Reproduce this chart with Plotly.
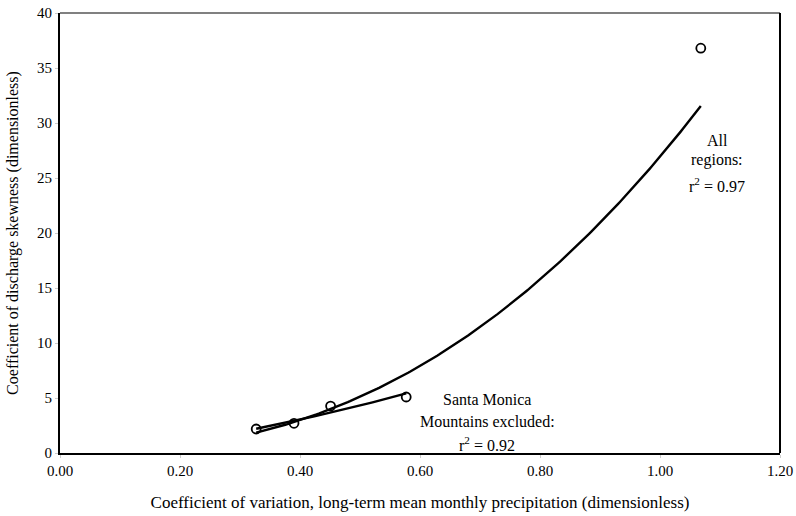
import numpy as np
import plotly.graph_objects as go

# Data
cv_precip = [0.327, 0.390, 0.451, 0.577, 1.068]
skewness = [2.18, 2.70, 4.27, 5.09, 36.8]
excluded_mask = [True, True, True, True, False]  # Santa Monica Mountains point excluded

x_ticks = [0.0, 0.2, 0.4, 0.6, 0.8, 1.0, 1.2]
x_tick_labels = ["0.00", "0.20", "0.40", "0.60", "0.80", "1.00", "1.20"]
y_ticks = [0, 5, 10, 15, 20, 25, 30, 35, 40]

x_title = "Coefficient of variation, long-term mean monthly precipitation (dimensionless)"
y_title = "Coefficient of discharge skewness (dimensionless)"

all_label_lines = ["All", "regions:", "r<sup>2</sup> = 0.97"]
all_label_x = 1.095
all_label_y = [28.45, 26.64, 24.36]
sm_label_lines = ["Santa Monica", "Mountains excluded:", "r<sup>2</sup> = 0.92"]
sm_label_x = 0.712
sm_label_y = [4.82, 2.82, 0.85]


def power_fit(xs, ys):
    lx, ly = np.log(xs), np.log(ys)
    b, ln_a = np.polyfit(lx, ly, 1)
    return np.exp(ln_a), b


x_all = np.array(cv_precip)
y_all = np.array(skewness)
a1, b1 = power_fit(x_all, y_all)
xs1 = np.linspace(x_all.min(), x_all.max(), 200)

m = np.array(excluded_mask)
a2, b2 = power_fit(x_all[m], y_all[m])
xs2 = np.linspace(x_all[m].min(), x_all[m].max(), 50)

font_family = "Liberation Serif"

fig = go.Figure()
fig.add_trace(go.Scatter(x=xs1, y=a1 * xs1 ** b1, mode="lines",
                         line=dict(color="black", width=2.4), showlegend=False,
                         hoverinfo="skip"))
fig.add_trace(go.Scatter(x=xs2, y=a2 * xs2 ** b2, mode="lines",
                         line=dict(color="black", width=2.4), showlegend=False,
                         hoverinfo="skip"))
fig.add_trace(go.Scatter(x=cv_precip, y=skewness, mode="markers",
                         marker=dict(symbol="circle-open", size=9, color="black",
                                     line=dict(width=1.8, color="black")),
                         showlegend=False))

for txt, yy in zip(all_label_lines, all_label_y):
    fig.add_annotation(x=all_label_x, y=yy, xref="x", yref="y", showarrow=False,
                       text=txt, font=dict(family=font_family, size=16, color="black"))
for txt, yy in zip(sm_label_lines, sm_label_y):
    fig.add_annotation(x=sm_label_x, y=yy, xref="x", yref="y", showarrow=False,
                       text=txt, font=dict(family=font_family, size=16, color="black"))

# top border (gray) and right border (black)
fig.add_shape(type="line", xref="paper", yref="paper", x0=0, x1=1, y0=1, y1=1,
              line=dict(color="#808080", width=2))
fig.add_shape(type="line", xref="paper", yref="paper", x0=1, x1=1, y0=0, y1=1,
              line=dict(color="black", width=2))

fig.update_layout(
    width=796, height=516,
    margin=dict(l=60, r=16, t=13, b=63),
    paper_bgcolor="white", plot_bgcolor="white",
    font=dict(family=font_family, size=15, color="black"),
    xaxis=dict(range=[0, 1.2], tickvals=x_ticks, ticktext=x_tick_labels,
               showgrid=False, zeroline=False, showline=True, linecolor="black",
               linewidth=2, mirror=False, ticks="outside", ticklen=3,
               tickcolor="#cccccc", tickfont=dict(size=15), automargin=False,
               ticklabeloverflow="allow",
               title=dict(text=x_title, font=dict(size=17), standoff=18)),
    yaxis=dict(range=[0, 40], tickvals=y_ticks,
               showgrid=False, zeroline=False, showline=True, linecolor="black",
               linewidth=2, mirror=False, ticks="outside", ticklen=3,
               tickcolor="#cccccc", tickfont=dict(size=15), automargin=False,
               ticklabeloverflow="allow",
               title=dict(text=y_title, font=dict(size=16), standoff=14)),
)

fig.write_html("out.html")
